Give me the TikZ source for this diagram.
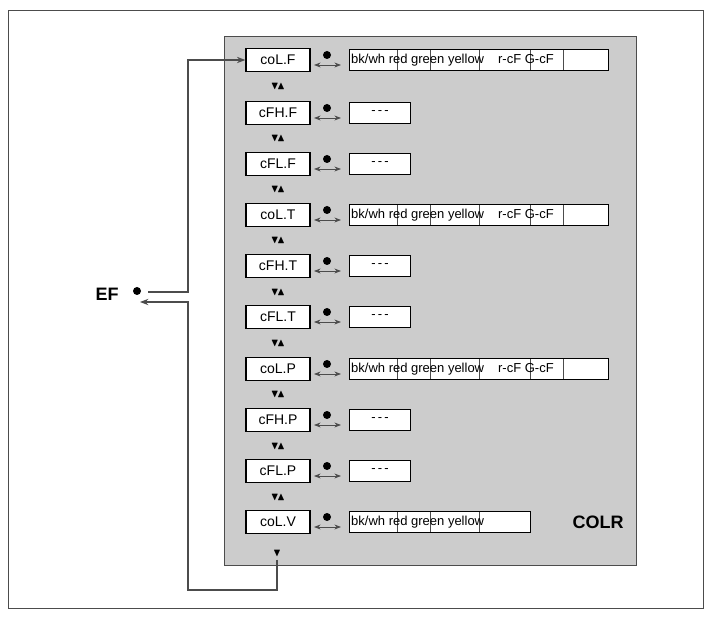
\documentclass[tikz,border=0pt]{standalone}
\usepackage{amssymb}
\usepackage{fontspec}
\setmainfont{Liberation Sans}
\usetikzlibrary{arrows.meta}
\def\kS{S}\def\kL{L}\def\kV{V}
\begin{document}
\begin{tikzpicture}[x=1pt,y=-1pt,
  par/.style={draw,line width=1.3pt,fill=white,minimum width=64pt,minimum height=23pt,inner sep=0pt,font=\fontsize{14}{14}\selectfont},
  val/.style={draw,line width=1.3pt,fill=white,minimum height=21pt,inner sep=0pt,anchor=west,font=\fontsize{13}{13}\selectfont},
  ln/.style={draw=black!70,line width=1.2pt},
  tri/.style={font=\fontsize{11}{11}\selectfont}]
\useasboundingbox (0,0) rectangle (712,617);
\draw[black!70] (8,10) rectangle (703,608);
\fill[black!20,draw=black!70,line width=1pt] (224,37) rectangle (636,565);
\foreach \n/\t/\y/\k in {1/coL.F/60/L,2/cFH.F/113/S,3/cFL.F/164/S,4/coL.T/215/L,5/cFH.T/266/S,6/cFL.T/317/S,7/coL.P/369/L,8/cFH.P/420/S,9/cFL.P/471/S,10/coL.V/522/V}{
  \node[par] (p\n) at (278,\y) {\t};
  \fill (327,\y-5) circle (4);
  \draw[Stealth-Stealth,black!70,thick] (314,\y+5) -- (341,\y+5);
  \ifx\k\kS
    \node[val,minimum width=61pt] (v\n) at (349,\y) {-\,-\,-};
  \fi
  \ifx\k\kL
    \node[val,minimum width=259pt] (v\n) at (349,\y) {};
    \foreach \xx in {397,430,479,530,563} \draw[black!70] (\xx,\y-10) -- (\xx,\y+10);
    \node[font=\fontsize{13}{13}\selectfont,anchor=west,inner sep=0pt] at (351,\y) {bk/wh red green yellow\hspace{14pt}r-cF G-cF};
  \fi
  \ifx\k\kV
    \node[val,minimum width=181pt] (v\n) at (349,\y) {};
    \foreach \xx in {397,430,479} \draw[black!70] (\xx,\y-10) -- (\xx,\y+10);
    \node[font=\fontsize{13}{13}\selectfont,anchor=west,inner sep=0pt] at (351,\y) {bk/wh red green yellow};
  \fi
}
\foreach \y in {86,138,189,240,292,343,394,446,497}
  \node[tri] at (278,\y) {$\blacktriangledown\!\blacktriangle$};
\node[tri] (tb) at (277,553) {$\blacktriangledown$};
\node[font=\bfseries\fontsize{18}{18}\selectfont] at (598,522) {COLR};
\node[font=\bfseries\fontsize{18}{18}\selectfont] (ef) at (107,294) {EF};
\fill (137,291) circle (4);
\coordinate (a) at (188,60);
\draw[ln,-Stealth] (148,292) -- (188,292) -- (a) -- (p1.west);
\draw[ln,-Stealth] (tb.south) -- (277,590) -- (188,590) -- (188,302) -- (140,302);
\end{tikzpicture}
\end{document}
